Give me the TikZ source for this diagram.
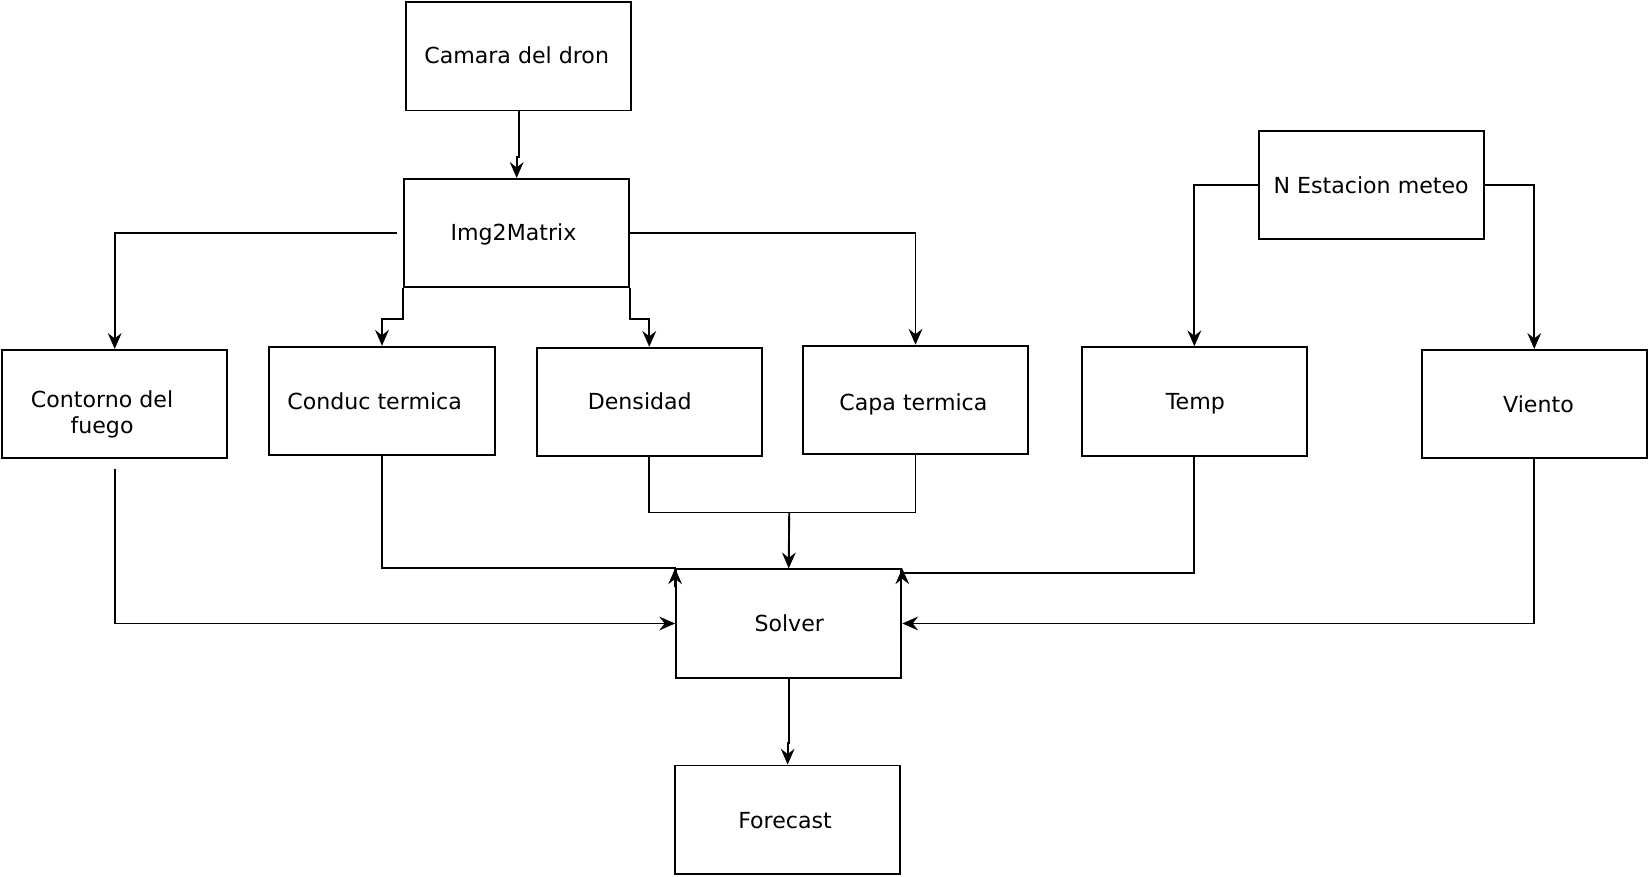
\documentclass[tikz,border=0pt]{standalone}
\usepackage{fontspec}
\setmainfont{DejaVu Sans}
\usetikzlibrary{arrows.meta}
\begin{document}
\begin{tikzpicture}[x=0.5pt,y=-0.5pt,
  box/.style={draw, line width=0.9pt, minimum width=107pt, minimum height=51.5pt, inner sep=0pt},
  lbl/.style={inner sep=0pt, font=\fontsize{10.5pt}{12.5pt}\selectfont, text height=0.73em, text depth=0pt, align=center},
  arr/.style={line width=0.9pt, -{Stealth[length=7.5pt,width=6.5pt,inset=2.5pt]}},
  ln/.style={line width=0.9pt}]
\useasboundingbox[fill=white] (0,0) rectangle (1568,833.4);
% boxes
\node[box] (cam)  at (493,53.5) {};
\node[box] (img)  at (491,221.5) {};
\node[box] (cont) at (109,384) {};
\node[box] (cond) at (363,381) {};
\node[box] (dens) at (617,382) {};
\node[box] (capa) at (870,380) {};
\node[box] (temp) at (1135,381.5) {};
\node[box] (vien) at (1458,384) {};
\node[box] (est)  at (1303,176) {};
\node[box] (solv) at (749.5,592.5) {};
\node[box] (fore) at (748.5,779) {};
% labels
\node[lbl] (camt)  at (491,53) {Camara del dron};
\node[lbl] (imgt)  at (488,221) {Img2Matrix};
\node[lbl] (contt) at (97,405) {Contorno del\\fuego};
\node[lbl] (condt) at (356,382) {Conduc termica};
\node[lbl] (denst) at (608,382) {Densidad};
\node[lbl] (capat) at (868,383) {Capa termica};
\node[lbl] (tempt) at (1136,382) {Temp};
\node[lbl] (vient) at (1462,385) {Viento};
\node[lbl] (estt)  at (1303,177) {N Estacion meteo};
\node[lbl] (solvt) at (750,593) {Solver};
\node[lbl] (foret) at (746,780) {Forecast};
% connectors
\draw[arr] (cam.south) -- ++(0,43) -| (img.north);
\draw[arr] ([xshift=-3pt]img.west) -| (cont.north);
\draw[arr] (img.south west) -- ++(0,29) -| (cond.north);
\draw[arr] (img.south east) -- ++(0,29) -| (dens.north);
\draw[arr] (img.east) -| (capa.north);
\draw[arr] (est.west) -| (temp.north);
\draw[arr] (est.east) -| (vien.north);
\coordinate (mj) at (750,487);
\draw[ln] (dens.south) |- (mj);
\draw[ln] (capa.south) |- (mj);
\draw[arr] (mj) -- (solv.north);
\draw[arr] (cond.south) |- (solv.north west) -- ++(0,18) -- (solv.north west);
\draw[arr] (temp.south) |- ([yshift=-2.3pt]solv.north east) -- (solv.north east);
\coordinate (cs) at (109,446);
\draw[arr] (cs) |- (solv.west);
\draw[arr] (vien.south) |- (solv.east);
\draw[arr] (solv.south) -- ++(0,61) -| (fore.north);
\end{tikzpicture}
\end{document}
